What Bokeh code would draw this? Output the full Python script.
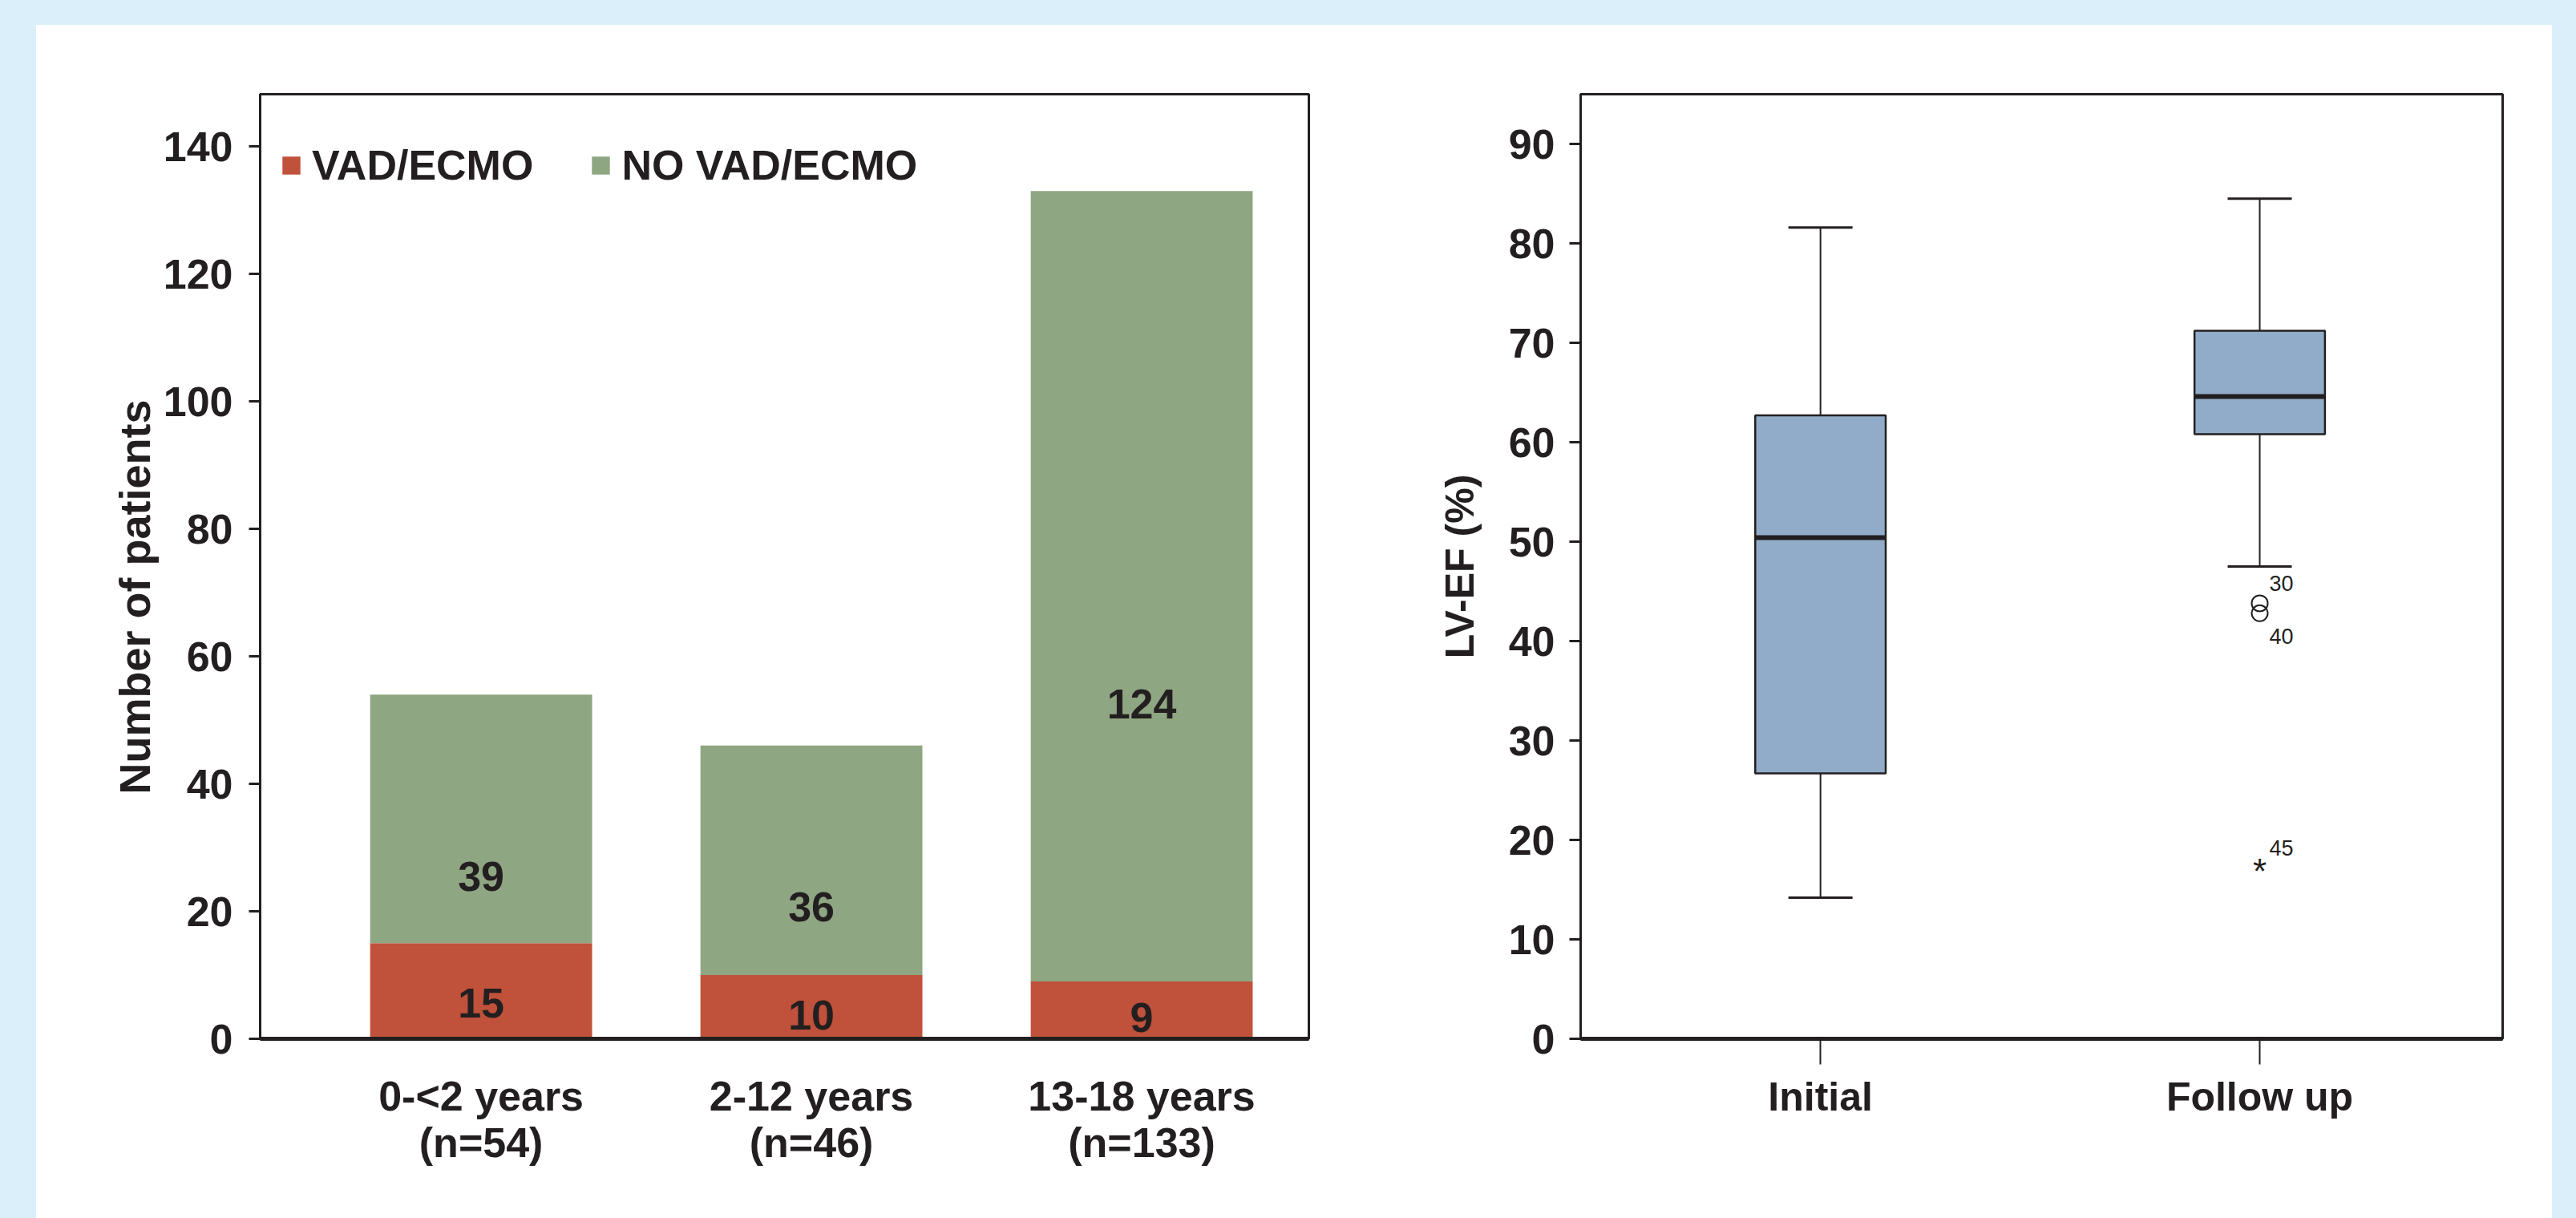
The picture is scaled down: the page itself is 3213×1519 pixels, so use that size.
from bokeh.plotting import figure
from bokeh.layouts import row
from bokeh.models import Range1d, FixedTicker, Legend, LegendItem, ColumnDataSource, Title
from bokeh.core.properties import value
from bokeh.embed import file_html
from bokeh.resources import INLINE

# ---------------- data ----------------
age_groups = ["0-<2 years", "2-12 years", "13-18 years"]
group_n = [54, 46, 133]
vad_ecmo = [15, 10, 9]
no_vad_ecmo = [39, 36, 124]
count_ticks = [0, 20, 40, 60, 80, 100, 120, 140]

ef_groups = ["Initial", "Follow up"]
ef_whisker_low = [14.2, 47.5]
ef_q1 = [26.7, 60.8]
ef_median = [50.4, 64.6]
ef_q3 = [62.7, 71.2]
ef_whisker_high = [81.6, 84.5]
outlier_group = ["Follow up", "Follow up"]
outlier_values = [43.8, 42.8]
outlier_case = ["30", "40"]
extreme_group = ["Follow up"]
extreme_values = [17.1]
extreme_case = ["45"]
ef_ticks = [0, 10, 20, 30, 40, 50, 60, 70, 80, 90]

# ---------------- styles ----------------
FONT = "Liberation Sans"
INK = "#231f20"
RED = "#c0513a"
GREEN = "#8fa682"
BOX = "#91acc8"
BG = "#dbeffa"

# ================= left: stacked bars =================
xs = [i + 1 for i in range(len(age_groups))]
label_factor = 0.74   # labels sit a bit below each segment's midpoint
src = ColumnDataSource(dict(x=xs, vad=vad_ecmo, no=no_vad_ecmo))
vad_lab_y = [label_factor * (v / 2) for v in vad_ecmo]
no_lab_y = [label_factor * (v + n / 2) for v, n in zip(vad_ecmo, no_vad_ecmo)]

p1 = figure(width=1715, height=1488,
            x_range=Range1d(0.331, 3.506), y_range=Range1d(0, 148.2),
            output_backend="svg", toolbar_location=None,
            min_border_left=279, min_border_right=128,
            min_border_top=86, min_border_bottom=224)
p1.background_fill_color = "white"
p1.border_fill_color = "white"
p1.grid.visible = False
p1.outline_line_color = INK
p1.outline_line_width = 3

rs = p1.vbar_stack(["vad", "no"], x="x", width=0.672, color=[RED, GREEN],
                   line_color=None, source=src)

p1.text(x=xs, y=vad_lab_y, text=[str(v) for v in vad_ecmo],
        text_font=value(FONT), text_font_style="bold", text_font_size="52px",
        text_color=INK, text_align="center", text_baseline="middle")
p1.text(x=xs, y=no_lab_y, text=[str(v) for v in no_vad_ecmo],
        text_font=value(FONT), text_font_style="bold", text_font_size="52px",
        text_color=INK, text_align="center", text_baseline="middle")

legend = Legend(items=[LegendItem(label="VAD/ECMO", renderers=[rs[0]]),
                       LegendItem(label="NO VAD/ECMO", renderers=[rs[1]])],
                orientation="horizontal", location=(25, 1059),
                margin=0, padding=0, spacing=70, label_standoff=12,
                glyph_width=28, glyph_height=28,
                label_text_font=FONT, label_text_font_style="bold",
                label_text_font_size="52px", label_text_color=INK,
                border_line_alpha=0, background_fill_alpha=0)
p1.add_layout(legend)

p1.xaxis.ticker = FixedTicker(ticks=xs)
p1.xaxis.major_label_overrides = {x: f"{g}\n(n={n})" for x, g, n in zip(xs, age_groups, group_n)}
p1.xaxis.major_tick_out = 0
p1.xaxis.major_tick_in = 0
p1.xaxis.minor_tick_out = 0
p1.xaxis.minor_tick_in = 0
p1.xaxis.axis_line_width = 5
p1.xaxis.axis_line_color = INK
p1.xaxis.major_label_text_font = FONT
p1.xaxis.major_label_text_font_style = "bold"
p1.xaxis.major_label_text_font_size = "52px"
p1.xaxis.major_label_text_color = INK
p1.xaxis.major_label_text_line_height = 1.0
p1.xaxis.major_label_standoff = 42

p1.yaxis.ticker = FixedTicker(ticks=count_ticks)
p1.yaxis.major_tick_out = 14
p1.yaxis.major_tick_in = 0
p1.yaxis.major_tick_line_width = 3
p1.yaxis.major_tick_line_color = INK
p1.yaxis.minor_tick_out = 0
p1.yaxis.minor_tick_in = 0
p1.yaxis.axis_line_width = 3
p1.yaxis.axis_line_color = INK
p1.yaxis.major_label_text_font = FONT
p1.yaxis.major_label_text_font_style = "bold"
p1.yaxis.major_label_text_font_size = "52px"
p1.yaxis.major_label_text_color = INK
p1.yaxis.major_label_standoff = 20

# y-axis title, sitting a little below the axis centre as in the original
ytitle = Title(text="Number of patients", align="left", offset=305,
               vertical_align="bottom", standoff=6,
               text_font=FONT, text_font_style="bold", text_font_size="54px",
               text_color=INK)
p1.add_layout(ytitle, "left")

# ================= right: box plot =================
bx = [i + 1 for i in range(len(ef_groups))]
box_w = 0.297
cap_w = 0.146

p2 = figure(width=1423, height=1488,
            x_range=Range1d(0.454, 2.553), y_range=Range1d(0, 95.0),
            output_backend="svg", toolbar_location=None,
            min_border_left=211, min_border_right=62,
            min_border_top=86, min_border_bottom=224)
p2.background_fill_color = "white"
p2.border_fill_color = "white"
p2.grid.visible = False
p2.outline_line_color = INK
p2.outline_line_width = 3

# whiskers
p2.segment(x0=bx, y0=ef_q3, x1=bx, y1=ef_whisker_high, line_color=INK, line_width=2)
p2.segment(x0=bx, y0=ef_q1, x1=bx, y1=ef_whisker_low, line_color=INK, line_width=2)
p2.segment(x0=[x - cap_w / 2 for x in bx], y0=ef_whisker_high,
           x1=[x + cap_w / 2 for x in bx], y1=ef_whisker_high, line_color=INK, line_width=3)
p2.segment(x0=[x - cap_w / 2 for x in bx], y0=ef_whisker_low,
           x1=[x + cap_w / 2 for x in bx], y1=ef_whisker_low, line_color=INK, line_width=3)
# boxes
p2.vbar(x=bx, width=box_w, bottom=ef_q1, top=ef_q3, fill_color=BOX,
        line_color=INK, line_width=2.5)
# medians
p2.segment(x0=[x - box_w / 2 for x in bx], y0=ef_median,
           x1=[x + box_w / 2 for x in bx], y1=ef_median, line_color=INK, line_width=6)

# outliers (circles) and extreme value (asterisk)
ox = [ef_groups.index(g) + 1 for g in outlier_group]
p2.scatter(x=ox, y=outlier_values, marker="circle", size=20, fill_color=None,
           line_color=INK, line_width=2)
ex = [ef_groups.index(g) + 1 for g in extreme_group]
p2.text(x=ex, y=extreme_values, text=["*"] * len(ex), y_offset=3,
        text_font=value(FONT), text_font_size="44px", text_color=INK,
        text_align="center", text_baseline="alphabetic")
# case labels (offsets in screen px)
case_dy = [-25, 29]
p2.text(x=ox, y=outlier_values, text=outlier_case, x_offset=12, y_offset=case_dy,
        text_font=value(FONT), text_font_size="27px", text_color=INK,
        text_align="left", text_baseline="middle")
p2.text(x=ex, y=extreme_values, text=extreme_case, x_offset=12, y_offset=-26,
        text_font=value(FONT), text_font_size="27px", text_color=INK,
        text_align="left", text_baseline="middle")

p2.xaxis.ticker = FixedTicker(ticks=bx)
p2.xaxis.major_label_overrides = {x: g for x, g in zip(bx, ef_groups)}
p2.xaxis.major_tick_out = 32
p2.xaxis.major_tick_in = 0
p2.xaxis.major_tick_line_width = 2
p2.xaxis.major_tick_line_color = INK
p2.xaxis.minor_tick_out = 0
p2.xaxis.minor_tick_in = 0
p2.xaxis.axis_line_width = 5
p2.xaxis.axis_line_color = INK
p2.xaxis.major_label_text_font = FONT
p2.xaxis.major_label_text_font_style = "bold"
p2.xaxis.major_label_text_font_size = "50px"
p2.xaxis.major_label_text_color = INK
p2.xaxis.major_label_standoff = 12

p2.yaxis.ticker = FixedTicker(ticks=ef_ticks)
p2.yaxis.major_tick_out = 14
p2.yaxis.major_tick_in = 0
p2.yaxis.major_tick_line_width = 3
p2.yaxis.major_tick_line_color = INK
p2.yaxis.minor_tick_out = 0
p2.yaxis.minor_tick_in = 0
p2.yaxis.axis_line_width = 3
p2.yaxis.axis_line_color = INK
p2.yaxis.major_label_text_font = FONT
p2.yaxis.major_label_text_font_style = "bold"
p2.yaxis.major_label_text_font_size = "52px"
p2.yaxis.major_label_text_color = INK
p2.yaxis.major_label_standoff = 18
p2.yaxis.axis_label = "LV-EF (%)"
p2.yaxis.axis_label_text_font = FONT
p2.yaxis.axis_label_text_font_style = "bold"
p2.yaxis.axis_label_text_font_size = "50px"
p2.yaxis.axis_label_text_color = INK
p2.yaxis.axis_label_standoff = 30

lay = row(p1, p2, margin=(31, 0, 0, 45), styles={"background-color": "white"})

html = file_html(lay, INLINE, title="LV-EF chart")
html = html.replace("</head>",
                    "<style>html,body{background:%s;overflow:hidden;}</style></head>" % BG, 1)
open("out.html", "w").write(html)
